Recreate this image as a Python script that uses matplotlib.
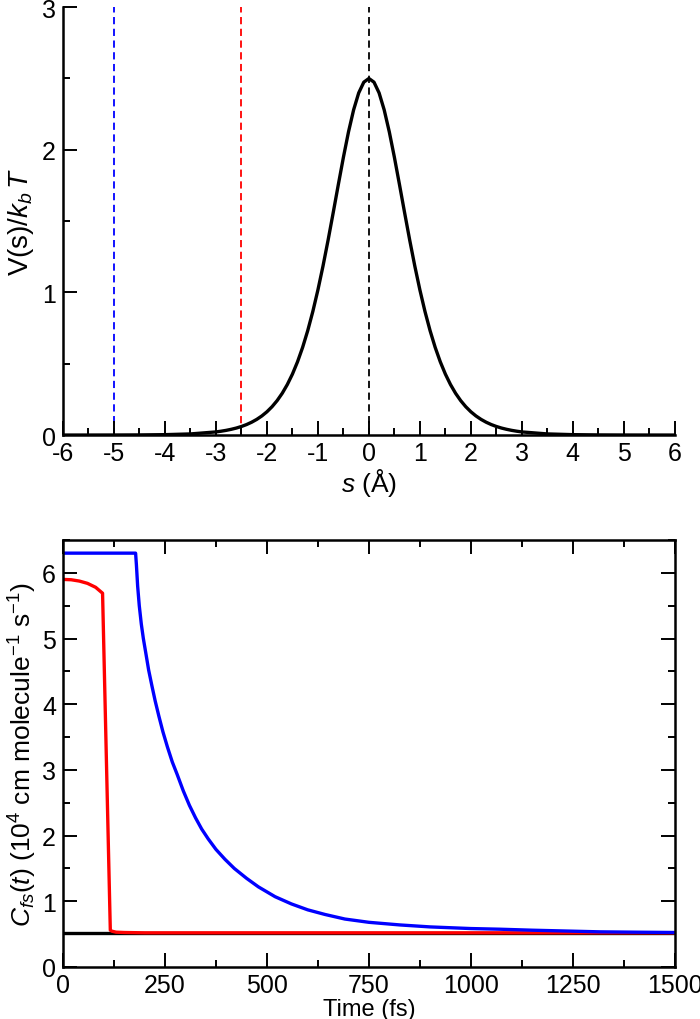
import matplotlib
matplotlib.use("Agg")
import matplotlib.pyplot as plt
from matplotlib.ticker import MultipleLocator

plt.rcParams["font.family"] = ["Liberation Sans", "DejaVu Sans"]
plt.rcParams["mathtext.fontset"] = "custom"
plt.rcParams["mathtext.rm"] = "Liberation Sans"
plt.rcParams["mathtext.it"] = "Liberation Sans:italic"
plt.rcParams["axes.unicode_minus"] = False

# ── 上图：势垒 V(s)/kbT ──
s_vals = [-6.0, -5.5, -5.0, -4.5, -4.0, -3.5,
          -3.0, -2.9, -2.8, -2.7, -2.6, -2.5, -2.4, -2.3, -2.2, -2.1,
          -2.0, -1.9, -1.8, -1.7, -1.6, -1.5, -1.4, -1.3, -1.2, -1.1,
          -1.0, -0.9, -0.8, -0.7, -0.6, -0.5, -0.4, -0.3, -0.2, -0.1,
          0.0, 0.1, 0.2, 0.3, 0.4, 0.5, 0.6, 0.7, 0.8, 0.9,
          1.0, 1.1, 1.2, 1.3, 1.4, 1.5, 1.6, 1.7, 1.8, 1.9,
          2.0, 2.1, 2.2, 2.3, 2.4, 2.5, 2.6, 2.7, 2.8, 2.9,
          3.0, 3.5, 4.0, 4.5, 5.0, 5.5, 6.0]
v_vals = [0.0000, 0.0001, 0.0004, 0.0010, 0.0028, 0.0079,
          0.0219, 0.0269, 0.0329, 0.0403, 0.0491, 0.0601, 0.0735, 0.0899, 0.1098, 0.1339,
          0.1632, 0.1987, 0.2415, 0.2928, 0.3543, 0.4273, 0.5136, 0.6147, 0.7319, 0.8662,
          1.0176, 1.1855, 1.3675, 1.5595, 1.7555, 1.9475, 2.1258, 2.2796, 2.3987, 2.4741,
          2.5000, 2.4741, 2.3987, 2.2796, 2.1258, 1.9475, 1.7555, 1.5595, 1.3675, 1.1855,
          1.0176, 0.8662, 0.7319, 0.6147, 0.5136, 0.4273, 0.3543, 0.2928, 0.2415, 0.1987,
          0.1632, 0.1339, 0.1098, 0.0899, 0.0735, 0.0601, 0.0491, 0.0403, 0.0329, 0.0269,
          0.0219, 0.0079, 0.0028, 0.0010, 0.0004, 0.0001, 0.0000]
dash_pos = [-5.0, -2.5, 0.0]
dash_colors = ["blue", "red", "black"]

# ── 下图：C_fs(t) ──
t_black = [0, 1500]
c_black = [0.52, 0.52]

t_red = [0, 20, 40, 60, 80, 97, 116, 120, 130, 150, 200, 1500]
c_red = [5.90, 5.895, 5.875, 5.84, 5.78, 5.69, 0.56, 0.545, 0.53, 0.525, 0.52, 0.52]

t_blue = [0, 178, 180, 183, 187, 192, 197, 203, 210, 218, 226, 235, 245, 256, 268,
          280, 295, 310, 325, 340, 356, 375, 397, 420, 450, 479, 520, 560, 600,
          642, 691, 750, 826, 900, 1000, 1071, 1150, 1250, 1316, 1400, 1500]
c_blue = [6.30, 6.30, 6.12, 5.80, 5.50, 5.22, 5.00, 4.78, 4.52, 4.28, 4.05, 3.82,
          3.58, 3.35, 3.12, 2.93, 2.68, 2.46, 2.27, 2.10, 1.95, 1.79, 1.64, 1.50,
          1.35, 1.22, 1.07, 0.96, 0.87, 0.80, 0.73, 0.68, 0.64, 0.61, 0.585, 0.575,
          0.56, 0.545, 0.535, 0.53, 0.525]


def style_ticks(ax, box):
    ax.tick_params(which="both", direction="in", width=1.4, labelsize=18,
                   top=box, right=box)
    ax.tick_params(which="major", length=10)
    ax.tick_params(which="minor", length=5)
    ax.tick_params(axis="x", pad=4)
    ax.tick_params(axis="y", pad=5)
    for sp in ax.spines.values():
        sp.set_linewidth(1.8)


fig = plt.figure(figsize=(7, 10.2), dpi=100)

# 上图
ax1 = fig.add_axes([0.09, 0.5725, 0.874, 0.4195])
for x, c in zip(dash_pos, dash_colors):
    ax1.axvline(x, color=c, lw=1.3, ls=(0, (4, 2.5)), zorder=1)
ax1.plot(s_vals, v_vals, color="black", lw=2.4, zorder=2)
ax1.set_xlim(-6, 6)
ax1.set_ylim(0, 3)
ax1.xaxis.set_major_locator(MultipleLocator(1))
ax1.xaxis.set_minor_locator(MultipleLocator(0.5))
ax1.yaxis.set_major_locator(MultipleLocator(1))
ax1.yaxis.set_minor_locator(MultipleLocator(0.5))
ax1.spines["top"].set_visible(False)
ax1.spines["right"].set_visible(False)
style_ticks(ax1, False)
ax1.set_xlabel(r"$s$ (Å)", fontsize=19, labelpad=1)
ax1.set_ylabel(r"$\mathrm{V(s)}/k_b\,T$", fontsize=20, labelpad=4)

# 下图
ax2 = fig.add_axes([0.09, 0.051, 0.874, 0.4186])
ax2.plot(t_black, c_black, color="black", lw=2.4)
ax2.plot(t_red, c_red, color="red", lw=2.4)
ax2.plot(t_blue, c_blue, color="blue", lw=2.4)
ax2.set_xlim(0, 1500)
ax2.set_ylim(0, 6.5)
ax2.xaxis.set_major_locator(MultipleLocator(250))
ax2.xaxis.set_minor_locator(MultipleLocator(125))
ax2.yaxis.set_major_locator(MultipleLocator(1))
ax2.yaxis.set_minor_locator(MultipleLocator(0.5))
style_ticks(ax2, True)
ax2.set_xlabel("Time (fs)", fontsize=17, labelpad=1)
ax2.set_ylabel(r"$C_{fs}(t)$ (10$^{4}$ cm molecule$^{-1}$ s$^{-1}$)",
               fontsize=19, labelpad=2)

fig.savefig("out.png", dpi=100)
